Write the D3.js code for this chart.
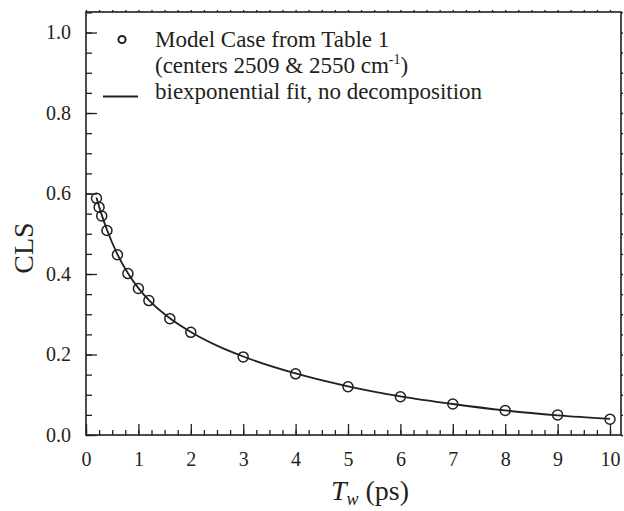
<!DOCTYPE html>
<html>
<head>
<meta charset="utf-8">
<script src="https://cdn.jsdelivr.net/npm/d3@7"></script>
<style>
  body { margin: 0; background: #fff; }
  text { font-family: "Liberation Serif", "Times New Roman", serif; fill: #231f20; }
</style>
</head>
<body>
<svg id="svg" width="624" height="511"></svg>
<script>
// measured points (Tw in ps, CLS)
var tw  = [0.2, 0.25, 0.3, 0.4, 0.6, 0.8, 1.0, 1.2, 1.6, 2, 3, 4, 5, 6, 7, 8, 9, 10];
var cls = [0.588, 0.566, 0.544, 0.508, 0.448, 0.401, 0.364, 0.334, 0.289, 0.255, 0.194, 0.152, 0.120, 0.095, 0.077, 0.061, 0.050, 0.039];
// fit curve
var fitX = [0.2, 0.3, 0.4, 0.6, 0.8, 1.0, 1.2, 1.6, 2, 2.5, 3, 4, 5, 6, 7, 8, 9, 10];
var fitY = [0.590, 0.547, 0.510, 0.449, 0.402, 0.365, 0.335, 0.290, 0.256, 0.222, 0.195, 0.153, 0.121, 0.096, 0.077, 0.061, 0.049, 0.040];
var xTicks = [0, 1, 2, 3, 4, 5, 6, 7, 8, 9, 10];
var yTicks = [0, 0.2, 0.4, 0.6, 0.8, 1.0];

var svg = d3.select("#svg");
var pl = 86, pr = 621, pt = 12, pb = 435;
var x = d3.scaleLinear().domain([0, 10.21]).range([pl, pr]);
var y = d3.scaleLinear().domain([0, 1.051]).range([pb, pt]);
var ink = "#231f20";

// minor ticks
var xMinor = d3.range(0, 10.01, 0.25);
var yMinor = d3.range(0, 1.051, 0.05);

var g = svg.append("g");

// bottom axis
g.append("g").attr("transform", "translate(0," + pb + ")")
  .call(d3.axisBottom(x).tickValues(xMinor).tickSize(-5).tickFormat(""))
  .call(a => a.select(".domain").remove());
g.append("g").attr("transform", "translate(0," + pb + ")")
  .call(d3.axisBottom(x).tickValues(xTicks).tickSize(-11).tickPadding(17).tickFormat(d3.format("d")))
  .call(a => a.select(".domain").remove())
  .call(a => a.selectAll("text").attr("font-size", 20).attr("font-family", "Liberation Serif"));

// left axis
g.append("g").attr("transform", "translate(" + pl + ",0)")
  .call(d3.axisLeft(y).tickValues(yMinor).tickSize(-6).tickFormat(""))
  .call(a => a.select(".domain").remove());
g.append("g").attr("transform", "translate(" + pl + ",0)")
  .call(d3.axisLeft(y).tickValues(yTicks).tickSize(-11).tickPadding(15).tickFormat(d3.format(".1f")))
  .call(a => a.select(".domain").remove())
  .call(a => a.selectAll("text").attr("font-size", 20).attr("font-family", "Liberation Serif"));

// top and right: tiny ticks
g.append("g").attr("transform", "translate(0," + pt + ")")
  .call(d3.axisTop(x).tickValues(xMinor).tickSize(2).tickFormat(""))
  .call(a => a.select(".domain").remove());
g.append("g").attr("transform", "translate(" + pr + ",0)")
  .call(d3.axisRight(y).tickValues(yMinor).tickSize(2).tickFormat(""))
  .call(a => a.select(".domain").remove());

g.selectAll(".tick line").attr("stroke", ink).attr("stroke-width", 1.3);

// frame
svg.append("rect")
  .attr("x", pl).attr("y", pt)
  .attr("width", pr - pl).attr("height", pb - pt)
  .attr("fill", "none").attr("stroke", ink).attr("stroke-width", 1.6);

// fit line
var line = d3.line().x((d, i) => x(fitX[i])).y(d => y(d)).curve(d3.curveMonotoneX);
svg.append("path")
  .attr("d", line(fitY))
  .attr("fill", "none").attr("stroke", ink).attr("stroke-width", 1.8);

// circles
svg.append("g").selectAll("circle")
  .data(tw).enter().append("circle")
  .attr("cx", d => x(d))
  .attr("cy", (d, i) => y(cls[i]))
  .attr("r", 5)
  .attr("fill", "none").attr("stroke", ink).attr("stroke-width", 1.5);

// legend
var leg = svg.append("g");
leg.append("circle").attr("cx", 122).attr("cy", 39.5).attr("r", 3.6)
  .attr("fill", "none").attr("stroke", ink).attr("stroke-width", 2);
leg.append("line").attr("x1", 103).attr("x2", 138).attr("y1", 96.5).attr("y2", 96.5)
  .attr("stroke", ink).attr("stroke-width", 2);
leg.append("text").attr("x", 155).attr("y", 47).attr("font-size", 23)
  .text("Model Case from Table 1");
var t2 = leg.append("text").attr("x", 155).attr("y", 73).attr("font-size", 23);
t2.append("tspan").text("(centers 2509 & 2550 cm");
t2.append("tspan").attr("font-size", 14).attr("dy", -9).text("-1");
t2.append("tspan").attr("dy", 9).text(")");
leg.append("text").attr("x", 155).attr("y", 99).attr("font-size", 23)
  .text("biexponential fit, no decomposition");

// axis titles
svg.append("text")
  .attr("transform", "translate(33,248) rotate(-90)")
  .attr("text-anchor", "middle").attr("font-size", 28)
  .text("CLS");
var xt = svg.append("text").attr("x", 370).attr("y", 500)
  .attr("text-anchor", "middle").attr("font-size", 28);
xt.append("tspan").attr("font-style", "italic").text("T");
xt.append("tspan").attr("font-style", "italic").attr("font-size", 18).attr("dy", 5).text("w");
xt.append("tspan").attr("dy", -5).text(" (ps)");
</script>
</body>
</html>
